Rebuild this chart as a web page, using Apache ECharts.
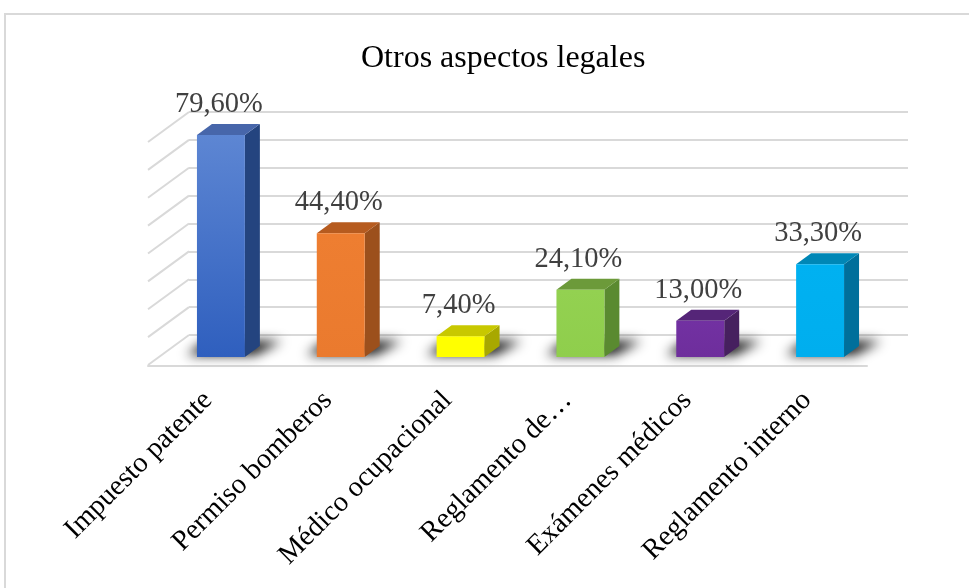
<!DOCTYPE html>
<html>
<head>
<meta charset="utf-8">
<script src="https://cdn.jsdelivr.net/npm/echarts@6/dist/echarts.min.js"></script>
<style>
  html, body { margin: 0; padding: 0; background: #fff; }
  #chart1 { width: 969px; height: 588px; }
</style>
</head>
<body>
<div id="chart1"></div>
<script>
// datos del grafico
const categories = ['Impuesto patente', 'Permiso bomberos', 'Médico ocupacional', 'Reglamento de…', 'Exámenes médicos', 'Reglamento interno'];
const values = [79.6, 44.4, 7.4, 24.1, 13.0, 33.3];
const yTicks = [0, 10, 20, 30, 40, 50, 60, 70, 80];

// colores: cara frontal (arriba, abajo), lateral, superior
const palette = [
  { front: ['#5d86d3', '#2f5fbe'], side: '#24447f', top: '#4766aa' },
  { front: ['#ee7e31', '#ea7a2e'], side: '#9c501c', top: '#b65b1f' },
  { front: ['#ffff00', '#ffff00'], side: '#a8a800', top: '#c8c800' },
  { front: ['#93d151', '#8fce4c'], side: '#5a8a30', top: '#6c9a3a' },
  { front: ['#7231a2', '#6e2e9c'], side: '#46205f', top: '#552578' },
  { front: ['#00b1f1', '#00aeee'], side: '#006f9b', top: '#0087b6' }
];

const serif = '"Liberation Serif", "Times New Roman", serif';

// perspectiva (pixeles)
const WALL_DX = -41, WALL_DY = 30;    // pared trasera -> borde frontal del piso
const FRONT_DX = -28, FRONT_DY = 22;  // pared trasera -> cara frontal de la barra
const DEPTH_X = 15, DEPTH_Y = -11;    // profundidad de la barra
const BAR_FRAC = 0.4;
const SHIFT = 3000; // la sombra se dibuja fuera y se trae con shadowOffsetX

function fmt(v) {
  return v.toFixed(2).replace('.', ',') + '%';
}

let myChart = echarts.init(document.getElementById('chart1'));

myChart.setOption({
  animation: false,
  title: {
    text: 'Otros aspectos legales',
    left: 356,
    top: 38,
    textStyle: { fontFamily: serif, fontSize: 32, fontWeight: 'normal', color: '#000' }
  },
  graphic: [{
    type: 'rect',
    shape: { x: 5, y: 14, width: 1000, height: 620 },
    style: { fill: 'none', stroke: '#d9d9d9', lineWidth: 2 },
    silent: true
  }],
  grid: [
    // pared trasera
    { left: 189, right: 61, top: 112, bottom: 253 },
    // plano frontal (solo para las etiquetas del eje x)
    { left: 148, right: 102, top: 142, bottom: 222 }
  ],
  xAxis: [
    {
      type: 'category', gridIndex: 0, data: categories,
      axisLine: { show: false }, axisTick: { show: false }, axisLabel: { show: false }
    },
    {
      type: 'category', gridIndex: 1, data: categories,
      axisLine: { show: true, lineStyle: { color: '#d9d9d9', width: 2 } },
      axisTick: { show: false },
      axisLabel: {
        rotate: 45, margin: 30, interval: 0,
        fontFamily: serif, fontSize: 28.5, color: '#000'
      }
    }
  ],
  yAxis: [
    {
      type: 'value', gridIndex: 0, min: 0, max: 80, interval: 10,
      axisLabel: { show: false }, axisLine: { show: false }, axisTick: { show: false },
      splitLine: { lineStyle: { color: '#d9d9d9', width: 2 } }
    },
    {
      type: 'value', gridIndex: 1, min: 0, max: 80, interval: 10, show: false,
      splitLine: { show: false }
    }
  ],
  series: [
    {
      // lineas de la pared lateral
      type: 'custom',
      xAxisIndex: 0, yAxisIndex: 0,
      silent: true,
      data: yTicks.map(v => [0, v]),
      renderItem: function (params, api) {
        const p = api.coord([0, api.value(1)]);
        const x = p[0] - api.size([1, 0])[0] / 2;
        return {
          type: 'line',
          shape: { x1: x, y1: p[1], x2: x + WALL_DX, y2: p[1] + WALL_DY },
          style: { stroke: '#d9d9d9', lineWidth: 2 }
        };
      }
    },
    {
      // barras 3D
      type: 'custom',
      xAxisIndex: 0, yAxisIndex: 0,
      data: values.map((v, i) => [i, v]),
      renderItem: function (params, api) {
        const i = api.value(0);
        const v = api.value(1);
        const top = api.coord([i, v]);
        const base = api.coord([i, 0]);
        const w = api.size([1, 0])[0] * BAR_FRAC;
        const cx = top[0] + FRONT_DX;
        const x0 = cx - w / 2, x1 = cx + w / 2;
        const yt = top[1] + FRONT_DY, yb = base[1] + FRONT_DY;
        const c = palette[i];
        return {
          type: 'group',
          children: [
            {
              // sombra en el piso (solo se ve el desenfoque)
              type: 'polygon',
              shape: { points: [
                [x0 - 10 - SHIFT, yb - 2], [x1 + 10 - SHIFT, yb - 2],
                [x1 + DEPTH_X + 22 - SHIFT, yb + DEPTH_Y - 5], [x0 + DEPTH_X - 6 - SHIFT, yb + DEPTH_Y - 5]
              ] },
              style: {
                fill: '#000',
                shadowColor: 'rgba(0,0,0,0.95)',
                shadowBlur: 12,
                shadowOffsetX: SHIFT,
                shadowOffsetY: 0
              }
            },
            {
              type: 'polygon',
              shape: { points: [
                [x1, yt], [x1 + DEPTH_X, yt + DEPTH_Y], [x1 + DEPTH_X, yb + DEPTH_Y], [x1, yb]
              ] },
              style: { fill: c.side }
            },
            {
              type: 'polygon',
              shape: { points: [
                [x0, yt], [x1, yt], [x1 + DEPTH_X, yt + DEPTH_Y], [x0 + DEPTH_X, yt + DEPTH_Y]
              ] },
              style: { fill: c.top }
            },
            {
              type: 'rect',
              shape: { x: x0, y: yt, width: w, height: yb - yt },
              style: {
                fill: new echarts.graphic.LinearGradient(0, 0, 0, 1, [
                  { offset: 0, color: c.front[0] },
                  { offset: 1, color: c.front[1] }
                ])
              }
            },
            {
              type: 'text',
              style: {
                text: fmt(v),
                x: cx - 2,
                y: yt + DEPTH_Y - 5,
                align: 'center',
                verticalAlign: 'bottom',
                font: '28.5px ' + serif,
                fill: '#404040'
              }
            }
          ]
        };
      }
    }
  ]
});
</script>
</body>
</html>
